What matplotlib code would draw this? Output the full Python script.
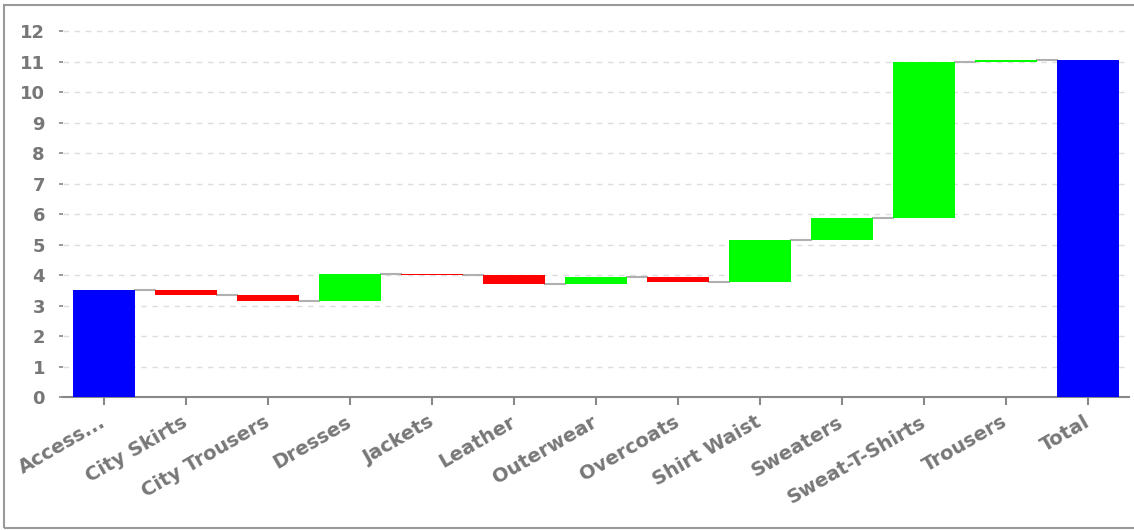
import numpy as np
import matplotlib
matplotlib.use('Agg')
import matplotlib.pyplot as plt
from matplotlib.patches import Rectangle

categories = ['Access...', 'City Skirts', 'City Trousers', 'Dresses', 'Jackets', 'Leather',
              'Outerwear', 'Overcoats', 'Shirt Waist', 'Sweaters', 'Sweat-T-Shirts',
              'Trousers', 'Total']
start_value = 3.52
changes = [-0.18, -0.20, 0.88, -0.03, -0.30, 0.25, -0.17, 1.37, 0.73, 5.12, 0.06]

W, H = 1134, 530
fig = plt.figure(figsize=(W / 100, H / 100), dpi=100)
ax = fig.add_axes([63 / W, 1 - 397 / H, 1066 / W, (397 - 25) / H])

# running totals
ends = start_value + np.cumsum(changes)
starts = np.concatenate([[start_value], ends[:-1]])
total = ends[-1]

bw = 0.76
x = np.arange(len(categories))

ax.bar(0, start_value, width=bw, color='#0000ff', zorder=3)
for i, (s, c) in enumerate(zip(starts, changes)):
    col = '#00ff00' if c >= 0 else '#ff0000'
    ax.bar(i + 1, c, bottom=s, width=bw, color=col, zorder=3)
ax.bar(len(categories) - 1, total, width=bw, color='#0000ff', zorder=3)

# connectors
levels = np.concatenate([[start_value], ends])
for i, lv in enumerate(levels):
    ax.plot([i + bw / 2, i + 1 - bw / 2], [lv, lv], color='#b0b0b0', lw=1.5, zorder=2)

ax.set_xlim(-0.5, len(categories) - 0.5)
ax.set_ylim(0, 12.2)
ax.set_yticks(range(0, 13))
ax.set_xticks(x)
ax.set_xticklabels(categories, rotation=30, ha='right', va='center', rotation_mode='anchor')

for sp in ['top', 'right', 'left']:
    ax.spines[sp].set_visible(False)
ax.spines['bottom'].set_color('#888888')
ax.spines['bottom'].set_linewidth(1.5)

ax.yaxis.grid(True, color='#dddddd', linestyle=(0, (4, 4)), lw=1)
ax.set_axisbelow(True)
ax.tick_params(axis='y', length=3, width=1.2, color='#888888', pad=10,
               labelcolor='#777777', labelsize=13)
ax.tick_params(axis='x', length=6, width=1.5, color='#888888', pad=11,
               labelcolor='#777777', labelsize=14)
for lab in ax.get_xticklabels() + ax.get_yticklabels():
    lab.set_fontweight('bold')

fig.patches.append(Rectangle((4 / W, 2 / H), 1.1, 1 - 7 / H, transform=fig.transFigure,
                             fill=False, edgecolor='#999999', lw=1.5))

fig.savefig('out.png', dpi=100)
